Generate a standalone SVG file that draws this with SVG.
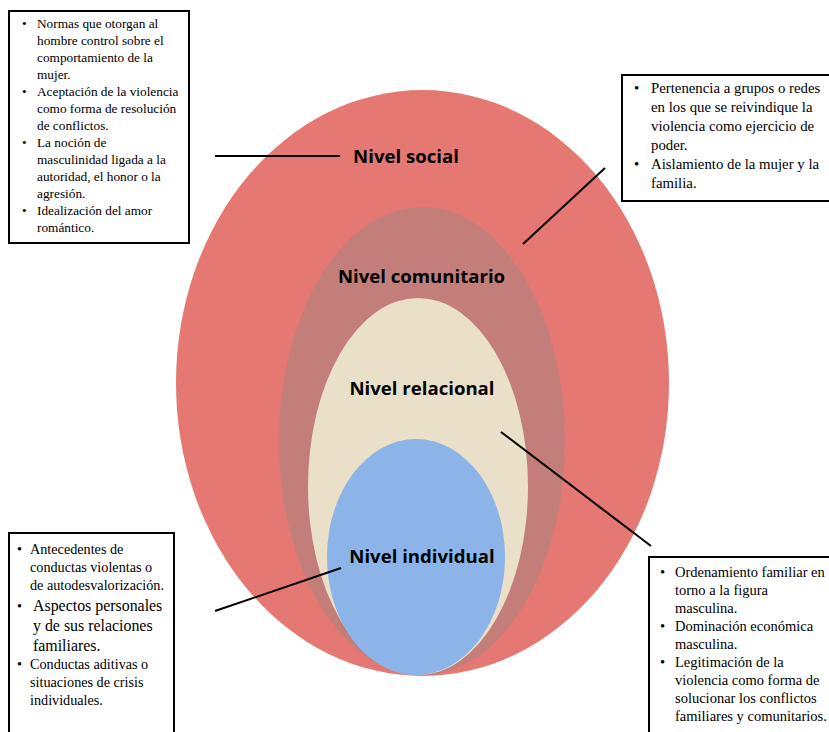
<svg xmlns="http://www.w3.org/2000/svg" width="829" height="732" viewBox="0 0 829 732">
<style>
.lbl{font-family:"Open Sans","Noto Sans",sans-serif;font-weight:bold;font-size:18.6px;fill:#000}
.box{fill:#fff;stroke:#000;stroke-width:2}
.t{font-family:"Liberation Serif","Times New Roman",serif;font-size:13px;fill:#000}
.conn{stroke:#000;stroke-width:2;fill:none}
</style>
<rect width="829" height="732" fill="#fff"/>
<g id="nivel-social">
<ellipse cx="422.5" cy="383" rx="246.5" ry="293" fill="#E57872"/>
<text class="lbl" x="406" y="163" text-anchor="middle">Nivel social</text>
</g>
<g id="nivel-comunitario">
<ellipse cx="422" cy="441" rx="143" ry="234" fill="#C47E7A"/>
<text class="lbl" x="421.5" y="283" text-anchor="middle">Nivel comunitario</text>
</g>
<g id="nivel-relacional">
<ellipse cx="418" cy="486.5" rx="110" ry="188.5" fill="#EADFC8"/>
<text class="lbl" x="422" y="395" text-anchor="middle">Nivel relacional</text>
</g>
<g id="nivel-individual">
<ellipse cx="416" cy="557" rx="89" ry="118" fill="#8DB4E8"/>
<text class="lbl" x="422" y="563" text-anchor="middle">Nivel individual</text>
</g>
<g id="connectors">
<line class="conn" x1="215" y1="156" x2="340" y2="156"/>
<line class="conn" x1="523" y1="244" x2="605" y2="168"/>
<line class="conn" x1="501" y1="432" x2="651" y2="546"/>
<line class="conn" x1="215" y1="611" x2="341" y2="568"/>
</g>
<g id="box-social">
<rect class="box" x="9" y="11" width="180" height="232"/>
<g class="t" style="font-size:13.3px">
<text x="22" y="28">•</text>
<text x="37" y="28">Normas que otorgan al</text>
<text x="37" y="45">hombre control sobre el</text>
<text x="37" y="62">comportamiento de la</text>
<text x="37" y="79">mujer.</text>
<text x="22" y="96">•</text>
<text x="37" y="96">Aceptación de la violencia</text>
<text x="37" y="113">como forma de resolución</text>
<text x="37" y="130">de conflictos.</text>
<text x="22" y="147">•</text>
<text x="37" y="147">La noción de</text>
<text x="37" y="164">masculinidad ligada a la</text>
<text x="37" y="181">autoridad, el honor o la</text>
<text x="37" y="198">agresión.</text>
<text x="22" y="215">•</text>
<text x="37" y="215">Idealización del amor</text>
<text x="37" y="232">romántico.</text>
</g>
</g>
<g id="box-comunitario">
<rect class="box" x="622" y="75" width="210" height="126"/>
<g class="t" style="font-size:14.8px">
<text x="634" y="93">•</text>
<text x="651" y="93">Pertenencia a grupos o redes</text>
<text x="651" y="112">en los que se reivindique la</text>
<text x="651" y="131">violencia como ejercicio de</text>
<text x="651" y="150">poder.</text>
<text x="634" y="169">•</text>
<text x="651" y="169">Aislamiento de la mujer y la</text>
<text x="651" y="188">familia.</text>
</g>
</g>
<g id="box-individual">
<rect class="box" x="9" y="533" width="165" height="202"/>
<g class="t" style="font-size:14.2px">
<text x="17" y="554">•</text>
<text x="30" y="554">Antecedentes de</text>
<text x="30" y="572">conductas violentas o</text>
<text x="30" y="590">de autodesvalorización.</text>
<text x="17" y="611">•</text>
<text x="33" y="611" style="font-size:15.9px">Aspectos personales</text>
<text x="33" y="631" style="font-size:15.9px">y de sus relaciones</text>
<text x="33" y="651" style="font-size:15.9px">familiares.</text>
<text x="17" y="669">•</text>
<text x="30" y="669">Conductas aditivas o</text>
<text x="30" y="687">situaciones de crisis</text>
<text x="30" y="705">individuales.</text>
</g>
</g>
<g id="box-relacional">
<rect class="box" x="649" y="557" width="183" height="180"/>
<g class="t" style="font-size:14.5px">
<text x="660" y="577">•</text>
<text x="675" y="577">Ordenamiento familiar en</text>
<text x="675" y="595">torno a la figura</text>
<text x="675" y="613">masculina.</text>
<text x="660" y="631">•</text>
<text x="675" y="631">Dominación económica</text>
<text x="675" y="649">masculina.</text>
<text x="660" y="667">•</text>
<text x="675" y="667">Legitimación de la</text>
<text x="675" y="685">violencia como forma de</text>
<text x="675" y="703">solucionar los conflictos</text>
<text x="675" y="721">familiares y comunitarios.</text>
</g>
</g>
</svg>
